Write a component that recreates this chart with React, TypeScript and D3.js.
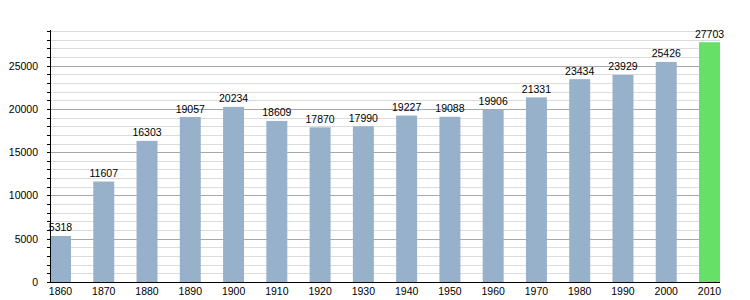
import React from "react";
import * as d3 from "d3";

const years = ["1860","1870","1880","1890","1900","1910","1920","1930","1940","1950","1960","1970","1980","1990","2000","2010"];
const population = [5318,11607,16303,19057,20234,18609,17870,17990,19227,19088,19906,21331,23434,23929,25426,27703];
const majorTicks = [0,5000,10000,15000,20000,25000];

export default function App() {
  const W = 750, H = 300;
  const left = 50, right = 720, top = 31, bottom = 282;
  const x = d3.scaleBand<string>().domain(years).range([left, right]).paddingInner(0.515).paddingOuter(0).align(0);
  const y = d3.scaleLinear().domain([0, 29000]).range([bottom, top]);
  const minor = d3.range(1000, 29001, 1000).filter(v => v % 5000 !== 0);
  const font = "'Liberation Sans', Arial, sans-serif";
  return (
    <svg width={W} height={H} style={{ position: "absolute", left: 0, top: 0, background: "#fff" }} fontFamily={font}>
      {minor.map(v => (
        <line key={"m" + v} x1={left} x2={right} y1={Math.round(y(v)) + 0.5} y2={Math.round(y(v)) + 0.5} stroke="#dcdcdc" strokeWidth={1} />
      ))}
      {majorTicks.filter(v => v > 0).map(v => (
        <line key={"M" + v} x1={left} x2={right} y1={Math.round(y(v)) + 0.5} y2={Math.round(y(v)) + 0.5} stroke="#a8a8a8" strokeWidth={1} />
      ))}
      {years.map((yr, i) => (
        <rect key={yr} x={x(yr)} y={y(population[i])} width={x.bandwidth()} height={bottom - y(population[i])}
          fill={i === years.length - 1 ? "#66e066" : "#97b1cb"} />
      ))}
      {years.map((yr, i) => (
        <text key={"v" + yr} x={(x(yr) as number) + x.bandwidth() / 2} y={y(population[i]) - 4.5} textAnchor="middle" fontSize={10.5} fill="#000">
          {population[i]}
        </text>
      ))}
      {years.map(yr => (
        <text key={"l" + yr} x={(x(yr) as number) + x.bandwidth() / 2} y={295} textAnchor="middle" fontSize={10.5} fill="#000">
          {yr}
        </text>
      ))}
      {d3.range(0, 29001, 1000).map(v => (
        <line key={"t" + v} x1={left - 3} x2={left} y1={Math.round(y(v)) + 0.5} y2={Math.round(y(v)) + 0.5} stroke="#000" strokeWidth={1} />
      ))}
      {majorTicks.map(v => (
        <text key={"y" + v} x={38} y={y(v) + 4} textAnchor="end" fontSize={10.5} fill="#000">{v}</text>
      ))}
      <line x1={left + 0.5} x2={left + 0.5} y1={top - 1} y2={bottom} stroke="#000" strokeWidth={1} />
      <line x1={left} x2={right} y1={bottom + 0.5} y2={bottom + 0.5} stroke="#000" strokeWidth={1} />
    </svg>
  );
}
